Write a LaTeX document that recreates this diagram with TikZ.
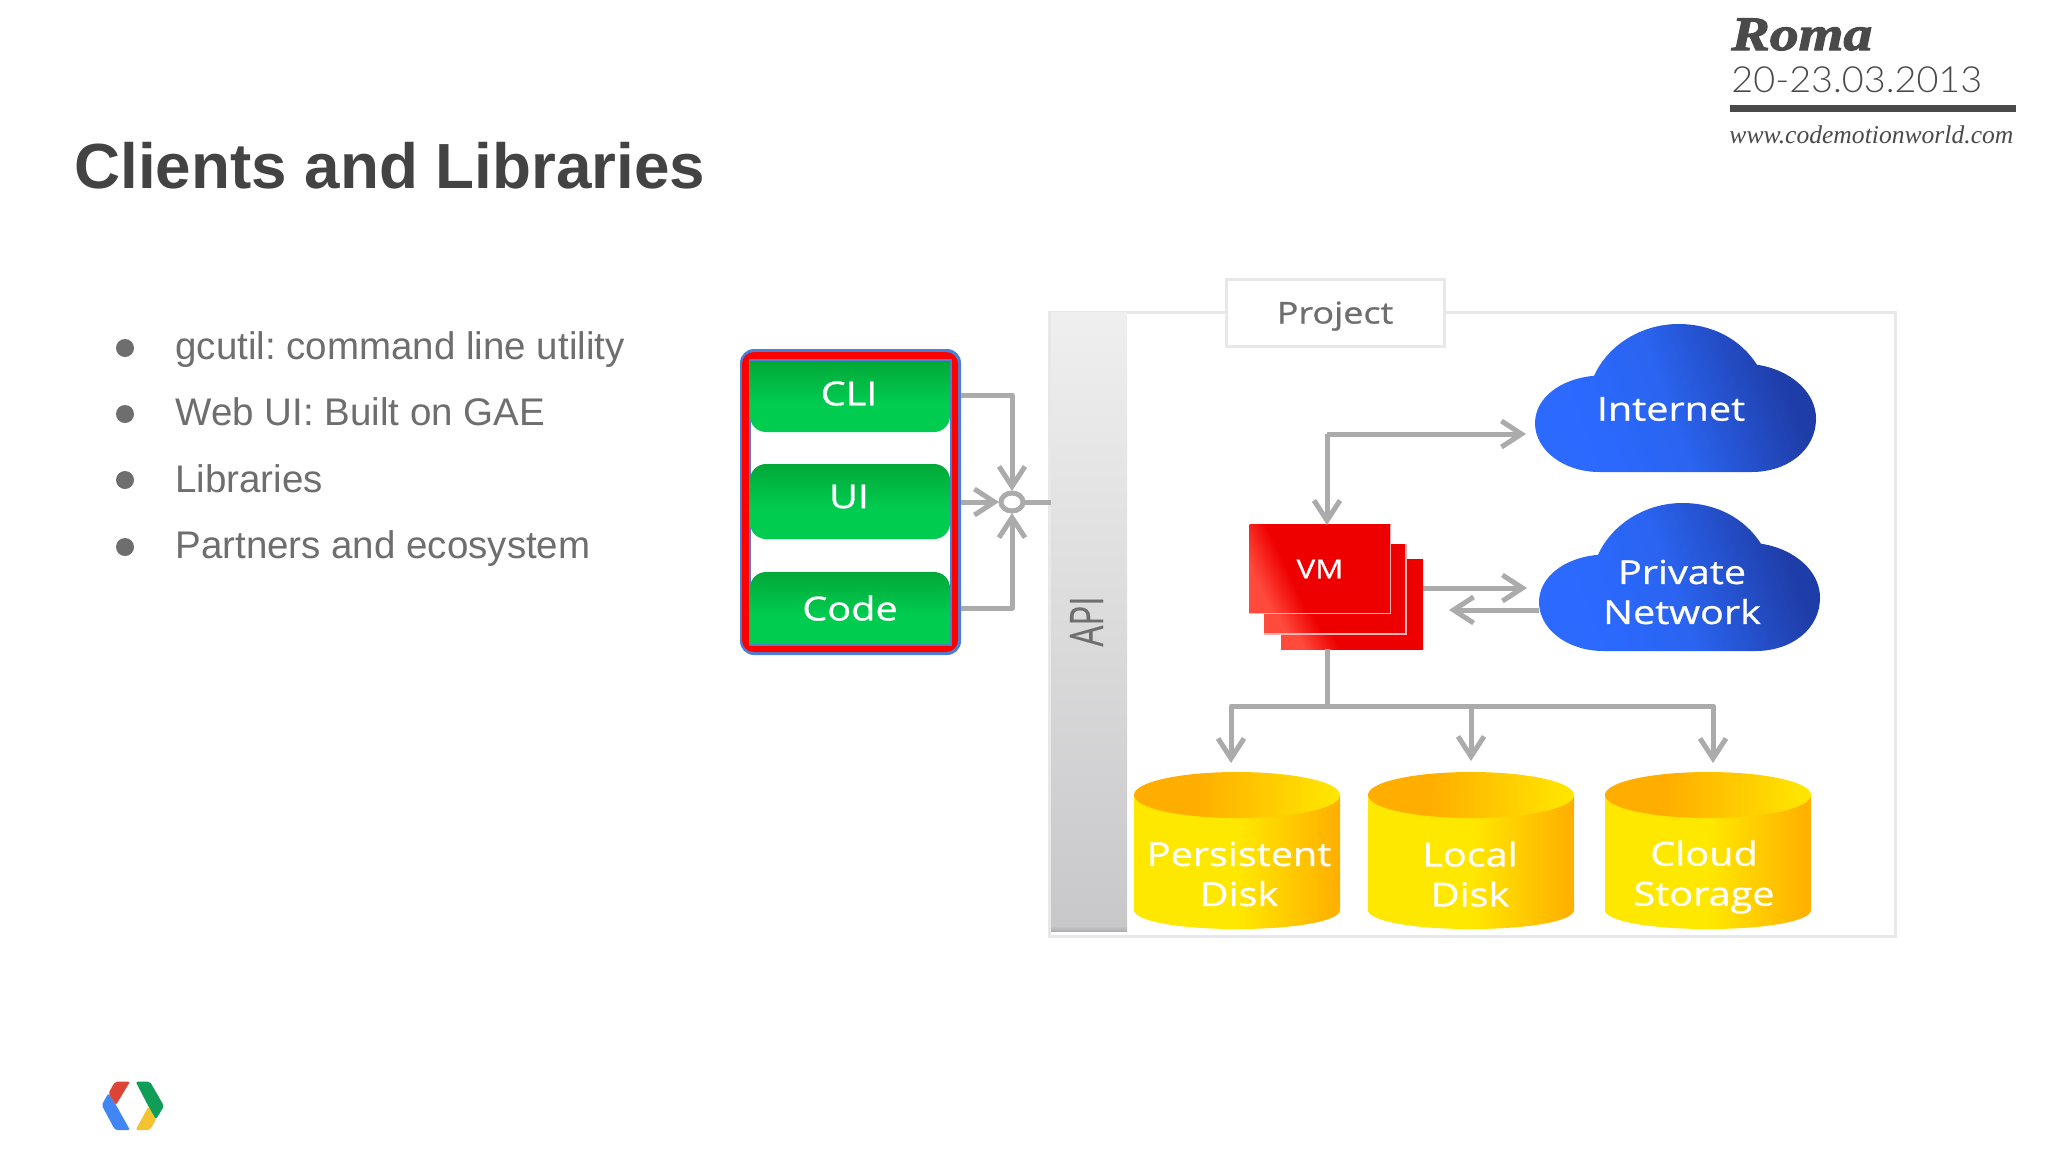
\documentclass[tikz,border=0pt]{standalone}
\usepackage{fontspec}
\usepackage{graphicx}
\usetikzlibrary{arrows.meta,shapes.geometric}
\setmainfont{Liberation Sans}
\newfontfamily\diag{Open Sans}[FakeStretch=1.2,FakeBold=0.8]
\newfontfamily\diagplain{Open Sans}[FakeBold=0.4]
\newfontfamily\romaf{Liberation Serif}[FakeStretch=1.2,FakeBold=2.5]
\newfontfamily\urlf{Liberation Serif}
\newfontfamily\datef{Lato Light}[FakeStretch=1.05]
\newcommand{\fs}[2]{\fontsize{#1}{#2}\selectfont}
\definecolor{titlec}{HTML}{434343}
\definecolor{bodyc}{HTML}{6E6E6E}
\definecolor{headc}{HTML}{4A4A4A}
\definecolor{linec}{HTML}{ABABAB}
\definecolor{framec}{HTML}{E8E8EA}
\definecolor{blueb}{HTML}{4A7FD8}
\definecolor{cloudA}{HTML}{2B69FF}
\definecolor{cloudB}{HTML}{2A64F0}
\definecolor{cloudC}{HTML}{1F3DA8}
\definecolor{greenA}{HTML}{02A838}
\definecolor{greenB}{HTML}{00CC50}
\definecolor{redA}{HTML}{FF4A3C}
\definecolor{redB}{HTML}{EE0000}
\definecolor{yelA}{HTML}{FFE800}
\definecolor{yelB}{HTML}{FFAE00}
\definecolor{apiA}{HTML}{EFEFEF}
\definecolor{apiB}{HTML}{C8C8CA}
\definecolor{apiC}{HTML}{AEAEB0}
\pgfdeclarehorizontalshading{cloudsh}{100bp}{color(0bp)=(cloudA); color(30bp)=(cloudA); color(48bp)=(cloudB); color(72bp)=(cloudC); color(100bp)=(cloudC)}
\pgfdeclareverticalshading{greensh}{100bp}{color(0bp)=(greenB); color(25bp)=(greenB); color(45bp)=(greenB); color(75bp)=(greenA); color(100bp)=(greenA)}
\pgfdeclarehorizontalshading{redsh}{100bp}{color(0bp)=(redA); color(25bp)=(redA); color(38bp)=(redB); color(100bp)=(redB)}
\pgfdeclarehorizontalshading{cylsh}{100bp}{color(0bp)=(yelA); color(25bp)=(yelA); color(50bp)=(yelA); color(75bp)=(yelB); color(100bp)=(yelB)}
\pgfdeclarehorizontalshading{cyltop}{100bp}{color(0bp)=(yelB); color(25bp)=(yelB); color(40bp)=(yelB); color(75bp)=(yelA); color(100bp)=(yelA)}
\pgfdeclareverticalshading{apish}{100bp}{color(0bp)=(apiC); color(25bp)=(apiC); color(25.4bp)=(apiB); color(75bp)=(apiA); color(100bp)=(apiA)}
\tikzset{
  box/.style 2 args={rectangle,minimum width=#1*0.5pt,minimum height=#2*0.5pt,inner sep=0pt,outer sep=0pt},
  arr/.style={draw=linec,line width=2.5pt,line join=round,-{Straight Barb[length=10pt,width=13pt,line width=2.5pt]}},
  conn/.style={draw=linec,line width=2.5pt,line join=round},
  lab/.style={text=white,font=\diag\fs{16.5}{20},align=center,inner sep=0pt},
  body/.style={anchor=base west,text=bodyc,font=\fs{19.25}{24},inner sep=0pt},
  dot/.style={circle,fill=bodyc,minimum size=9pt,inner sep=0pt},
  vmedge/.style={draw=white!70!red,line width=0.75pt},
}
\newcommand{\cloudshape}[4]{%
  \begin{scope}[shift={(#1,#2)},x=#3*0.5pt,y=-#4*0.5pt]
    \shade[shading=cloudsh,shading angle=20] (0.23,1) .. controls (0.10,1) and (0,0.85) .. (0,0.67)
      .. controls (0,0.5) and (0.09,0.37) .. (0.21,0.35)
      .. controls (0.26,0.14) and (0.38,0) .. (0.51,0)
      .. controls (0.63,0) and (0.73,0.10) .. (0.79,0.275)
      .. controls (0.91,0.31) and (1,0.46) .. (1,0.64)
      .. controls (1,0.85) and (0.90,1) .. (0.77,1) -- cycle;
  \end{scope}}
\newcommand{\cyl}[1]{%
  \begin{scope}[shift={(#1,772)}]
    \shade[shading=cylsh] (0,23) -- (0,138) .. controls (0,149) and (45,157) .. (103,157)
      .. controls (161,157) and (206,149) .. (206,138) -- (206,23) -- cycle;
    \shade[shading=cyltop] (0,23) .. controls (0,10) and (46,0) .. (103,0)
      .. controls (160,0) and (206,10) .. (206,23) .. controls (206,36) and (160,46) .. (103,46)
      .. controls (46,46) and (0,36) .. (0,23) -- cycle;
  \end{scope}}
\begin{document}
\frenchspacing
\begin{tikzpicture}[x=0.5pt,y=-0.5pt]
\useasboundingbox[fill=white] (0,0) rectangle (2048,1153);
% header
\node[anchor=base west,text=titlec,font=\bfseries\fs{31.9}{36},inner sep=0pt] (title) at (74,188.5) {Clients and Libraries};
\node[anchor=base west,text=headc,font=\romaf\bfseries\itshape\fs{24}{28},inner sep=0pt] (roma) at (1731,50) {Roma};
\node[anchor=base west,text=headc,font=\datef\fs{18}{22},inner sep=0pt] (date) at (1731,92) {20-23.03.2013};
\node[box={286}{7},fill=headc] (rule) at (1873,108.5) {};
\node[anchor=base west,text=headc,font=\urlf\itshape\fs{12.8}{15},inner sep=0pt] (url) at (1729,143) {www.codemotionworld.com};
% bullets
\node[dot] (d1) at (125,348) {};
\node[dot] (d2) at (125,414) {};
\node[dot] (d3) at (125,480) {};
\node[dot] (d4) at (125,547) {};
\node[body] (b1) at (175,359) {gcutil: command line utility};
\node[body] (b2) at (175,425) {Web UI: Built on GAE};
\node[body] (b3) at (175,492) {Libraries};
\node[body] (b4) at (175,558) {Partners and ecosystem};
% frame
\node[box={846}{624},draw=framec,line width=1.5pt,fill=white] (frame) at (1472,624) {};
\node[box={76}{619},shade,shading=apish] (api) at (1089,621.5) {\rotatebox{90}{\scalebox{1}[1.4]{\diagplain\fs{16.5}{20}\color{bodyc}API}}\hspace*{2.5pt}};
\node[box={218}{67},draw=framec,line width=1.5pt,fill=white,text=bodyc,text depth=0pt,font=\diag\fs{15}{18}] (project) at (1335,312.5) {Project};
% client stack
\node[box={221}{306},fill=blueb,rounded corners=7pt] (stack) at (850.5,502) {};
\node[box={216}{300},fill=red,rounded corners=6pt] (stackred) at (850,502) {};
\node[box={201}{285.5},fill=white,draw=blueb,line width=1pt] (stackin) at (850,502.3) {};
\shade[shading=greensh] (750,361) -- (950,361) [rounded corners=8pt] -- (950,432) -- (750,432) [sharp corners] -- cycle;
\shade[shading=greensh,rounded corners=8pt] (750,464) rectangle (950,539);
\shade[shading=greensh] (750,644) -- (950,644) [rounded corners=8pt] -- (950,572) -- (750,572) [sharp corners] -- cycle;
\node[box={198}{71},lab] (cli) at (849,393.5) {CLI};
\node[box={198}{75},lab] (ui) at (849,496.5) {UI};
\node[box={198}{72},lab] (code) at (850,608) {Code};
% hub
\node[ellipse,draw=linec,line width=2.5pt,fill=white,minimum width=11pt,minimum height=9pt,inner sep=0pt,outer sep=1pt] (hub) at (1012,502) {};
\draw[arr] ([yshift=-0.75pt]stack.east |- cli.center) -| (hub.north);
\draw[arr] (stack.east |- hub) -- (hub.west);
\draw[arr] (stack.east |- code.center) -| (hub.south);
\draw[conn] (hub.east) -- (api.west |- hub);
% clouds
\cloudshape{1535}{324}{281}{148}
\cloudshape{1539}{503}{281}{148}
\node[lab] (internet) at (1671,409) {Internet};
\node[lab] (private) at (1682,592) {Private\\Network};
% VMs
\shade[shading=redsh,shading angle=25] (1281,559) rectangle (1423,649);
\shade[shading=redsh,shading angle=25] (1264,544) rectangle (1406,634);
\draw[vmedge] (1406,544) -- (1406,634) -- (1264,634);
\node[box={141}{89},shade,shading=redsh,shading angle=25,text=white,font=\diag\fs{13}{16}] (vm) at (1320,569) {VM};
\draw[vmedge] (vm.north east) -- (vm.south east) -- (vm.south west);
% connectors in the project
\coordinate (vmtop) at (1327,525);
\coordinate (inetin) at (1526,434);
\coordinate (vmr1) at (1423,588);
\coordinate (pnin) at (1527,588);
\coordinate (pnout) at (1539,610);
\coordinate (vmr2) at (1449,610);
\coordinate (vmbot) at (1327,649);
\coordinate (bus) at (1327,706);
\coordinate (pdtip) at (1231,763);
\coordinate (ldtip) at (1471,761);
\coordinate (cstip) at (1713,763);
\draw[arr] (vmtop |- inetin) -- (vmtop);
\draw[arr] (vmtop |- inetin) -- (inetin);
\draw[arr] (vmr1) -- (pnin);
\draw[arr] (pnout) -- (vmr2);
\draw[conn] (vmbot) -- (bus);
\draw[arr] (bus) -| (pdtip);
\draw[arr] (bus) -| (ldtip);
\draw[arr] (bus) -| (cstip);
% disks
\cyl{1134}
\cyl{1368}
\cyl{1605}
\node[lab] (pd) at (1239,874) {Persistent\\Disk};
\node[lab] (ld) at (1470,874) {Local\\Disk};
\node[lab] (cs) at (1704,877) {Cloud\\Storage};
% logo
\begin{scope}[shift={(80,1060)},x=0.5pt/3,y=-0.5pt/3]
\fill[rounded corners=1pt,color={rgb,255:red,66;green,133;blue,244}] (85,100) -- (65,135) -- (105,210) -- (150,210) -- (108,135) -- cycle;
\fill[rounded corners=1pt,color={rgb,255:red,219;green,68;blue,55}] (150,65) -- (105,65) -- (85,100) -- (108,135) -- cycle;
\fill[rounded corners=1pt,color={rgb,255:red,244;green,196;blue,48}] (205,140) -- (230,175) -- (210,210) -- (167,210) -- cycle;
\fill[rounded corners=1pt,color={rgb,255:red,15;green,157;blue,88}] (167,65) -- (210,65) -- (252,138) -- (228,178) -- (206,140) -- cycle;
\end{scope}
\end{tikzpicture}
\end{document}
